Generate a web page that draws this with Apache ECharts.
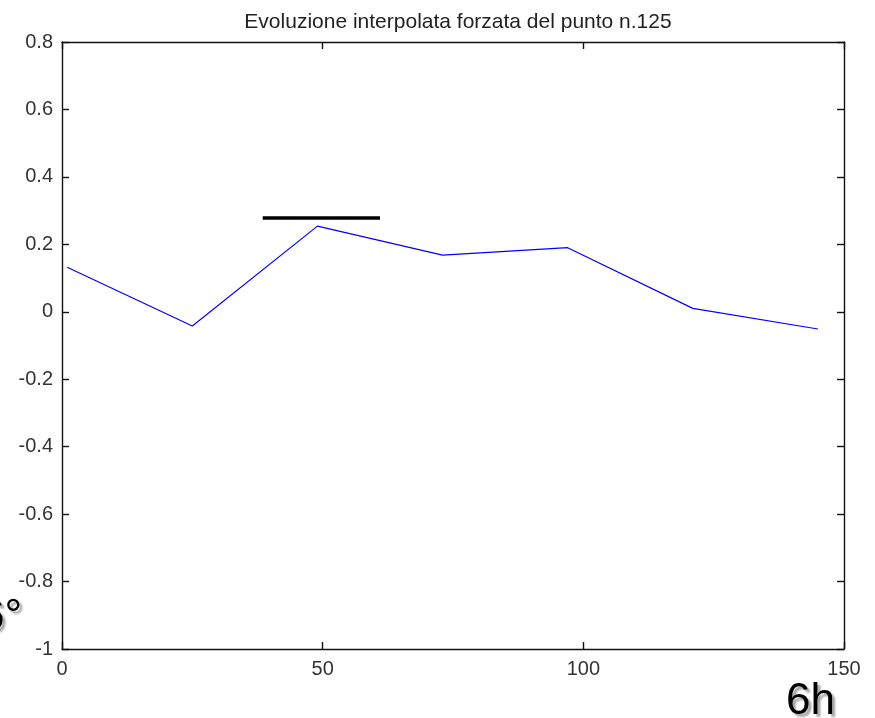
<!DOCTYPE html>
<html><head><meta charset="utf-8">
<script src="https://cdn.jsdelivr.net/npm/echarts@6/dist/echarts.min.js"></script>
<style>html,body{margin:0;padding:0;background:#fff}#c{width:875px;height:718px}</style>
</head><body><div id="c"></div>
<script>
const titleText = "Evoluzione interpolata forzata del punto n.125";
const xValues = [1, 25, 49, 73, 97, 121, 145];
const yValues = [0.132, -0.042, 0.254, 0.168, 0.19, 0.01, -0.051];
const markX = [38.5, 61];
const markY = [0.278, 0.278];
const xTicks = [0, 50, 100, 150];
const yTicks = [-1, -0.8, -0.6, -0.4, -0.2, 0, 0.2, 0.4, 0.6, 0.8];

const chart = echarts.init(document.getElementById('c'), null, {renderer: 'canvas'});
const fmt = v => { const r = Math.round(v * 10) / 10; return String(r); };
const axisFont = {fontFamily: 'Liberation Sans, Arial, sans-serif', fontSize: 20, color: '#333'};
const line = {show: true, onZero: false, lineStyle: {color: '#111', width: 1.4}};
const tick = {show: true, inside: true, length: 7, lineStyle: {color: '#111', width: 1.4}};
chart.setOption({
  animation: false,
  backgroundColor: '#fff',
  title: {text: titleText, left: 453, top: 7, textAlign: 'center',
    textStyle: {fontFamily: 'Liberation Sans, Arial, sans-serif', fontSize: 21, fontWeight: 'normal', color: '#222'}},
  grid: {left: 62, top: 42, width: 782, height: 607, containLabel: false},
  xAxis: [
    {type: 'value', min: 0, max: 150, interval: 50, position: 'bottom',
      axisLine: line, axisTick: tick,
      axisLabel: Object.assign({margin: 10, formatter: fmt}, axisFont), splitLine: {show: false}},
    {type: 'value', min: 0, max: 150, interval: 50, position: 'top',
      axisLine: line, axisTick: tick,
      axisLabel: {show: false}, splitLine: {show: false}}
  ],
  yAxis: [
    {type: 'value', min: -1, max: 0.8, interval: 0.2, position: 'left',
      axisLine: line, axisTick: tick,
      axisLabel: Object.assign({margin: 9, formatter: fmt}, axisFont), splitLine: {show: false}},
    {type: 'value', min: -1, max: 0.8, interval: 0.2, position: 'right',
      axisLine: line, axisTick: tick,
      axisLabel: {show: false}, splitLine: {show: false}}
  ],
  series: [
    {type: 'line', xAxisIndex: 0, yAxisIndex: 0, symbol: 'none',
      data: xValues.map((x, i) => [x, yValues[i]]),
      lineStyle: {color: '#0000ff', width: 1.2}},
    {type: 'line', xAxisIndex: 0, yAxisIndex: 0, symbol: 'none',
      data: markX.map((x, i) => [x, markY[i]]),
      lineStyle: {color: '#000', width: 3.5}}
  ],
  graphic: [
    {type: 'text', left: 786, top: 680, style: {text: '6h', fontFamily: 'Liberation Sans, Arial, sans-serif',
      fontSize: 44, fill: '#000', textShadowColor: 'rgba(0,0,0,0.35)', textShadowOffsetX: 3, textShadowOffsetY: 3, textShadowBlur: 2}},
    {type: 'text', left: -20, top: 596, style: {text: '6°', fontFamily: 'Liberation Sans, Arial, sans-serif',
      fontSize: 44, fill: '#000', textShadowColor: 'rgba(0,0,0,0.35)', textShadowOffsetX: 3, textShadowOffsetY: 3, textShadowBlur: 2}}
  ]
});
</script></body></html>
